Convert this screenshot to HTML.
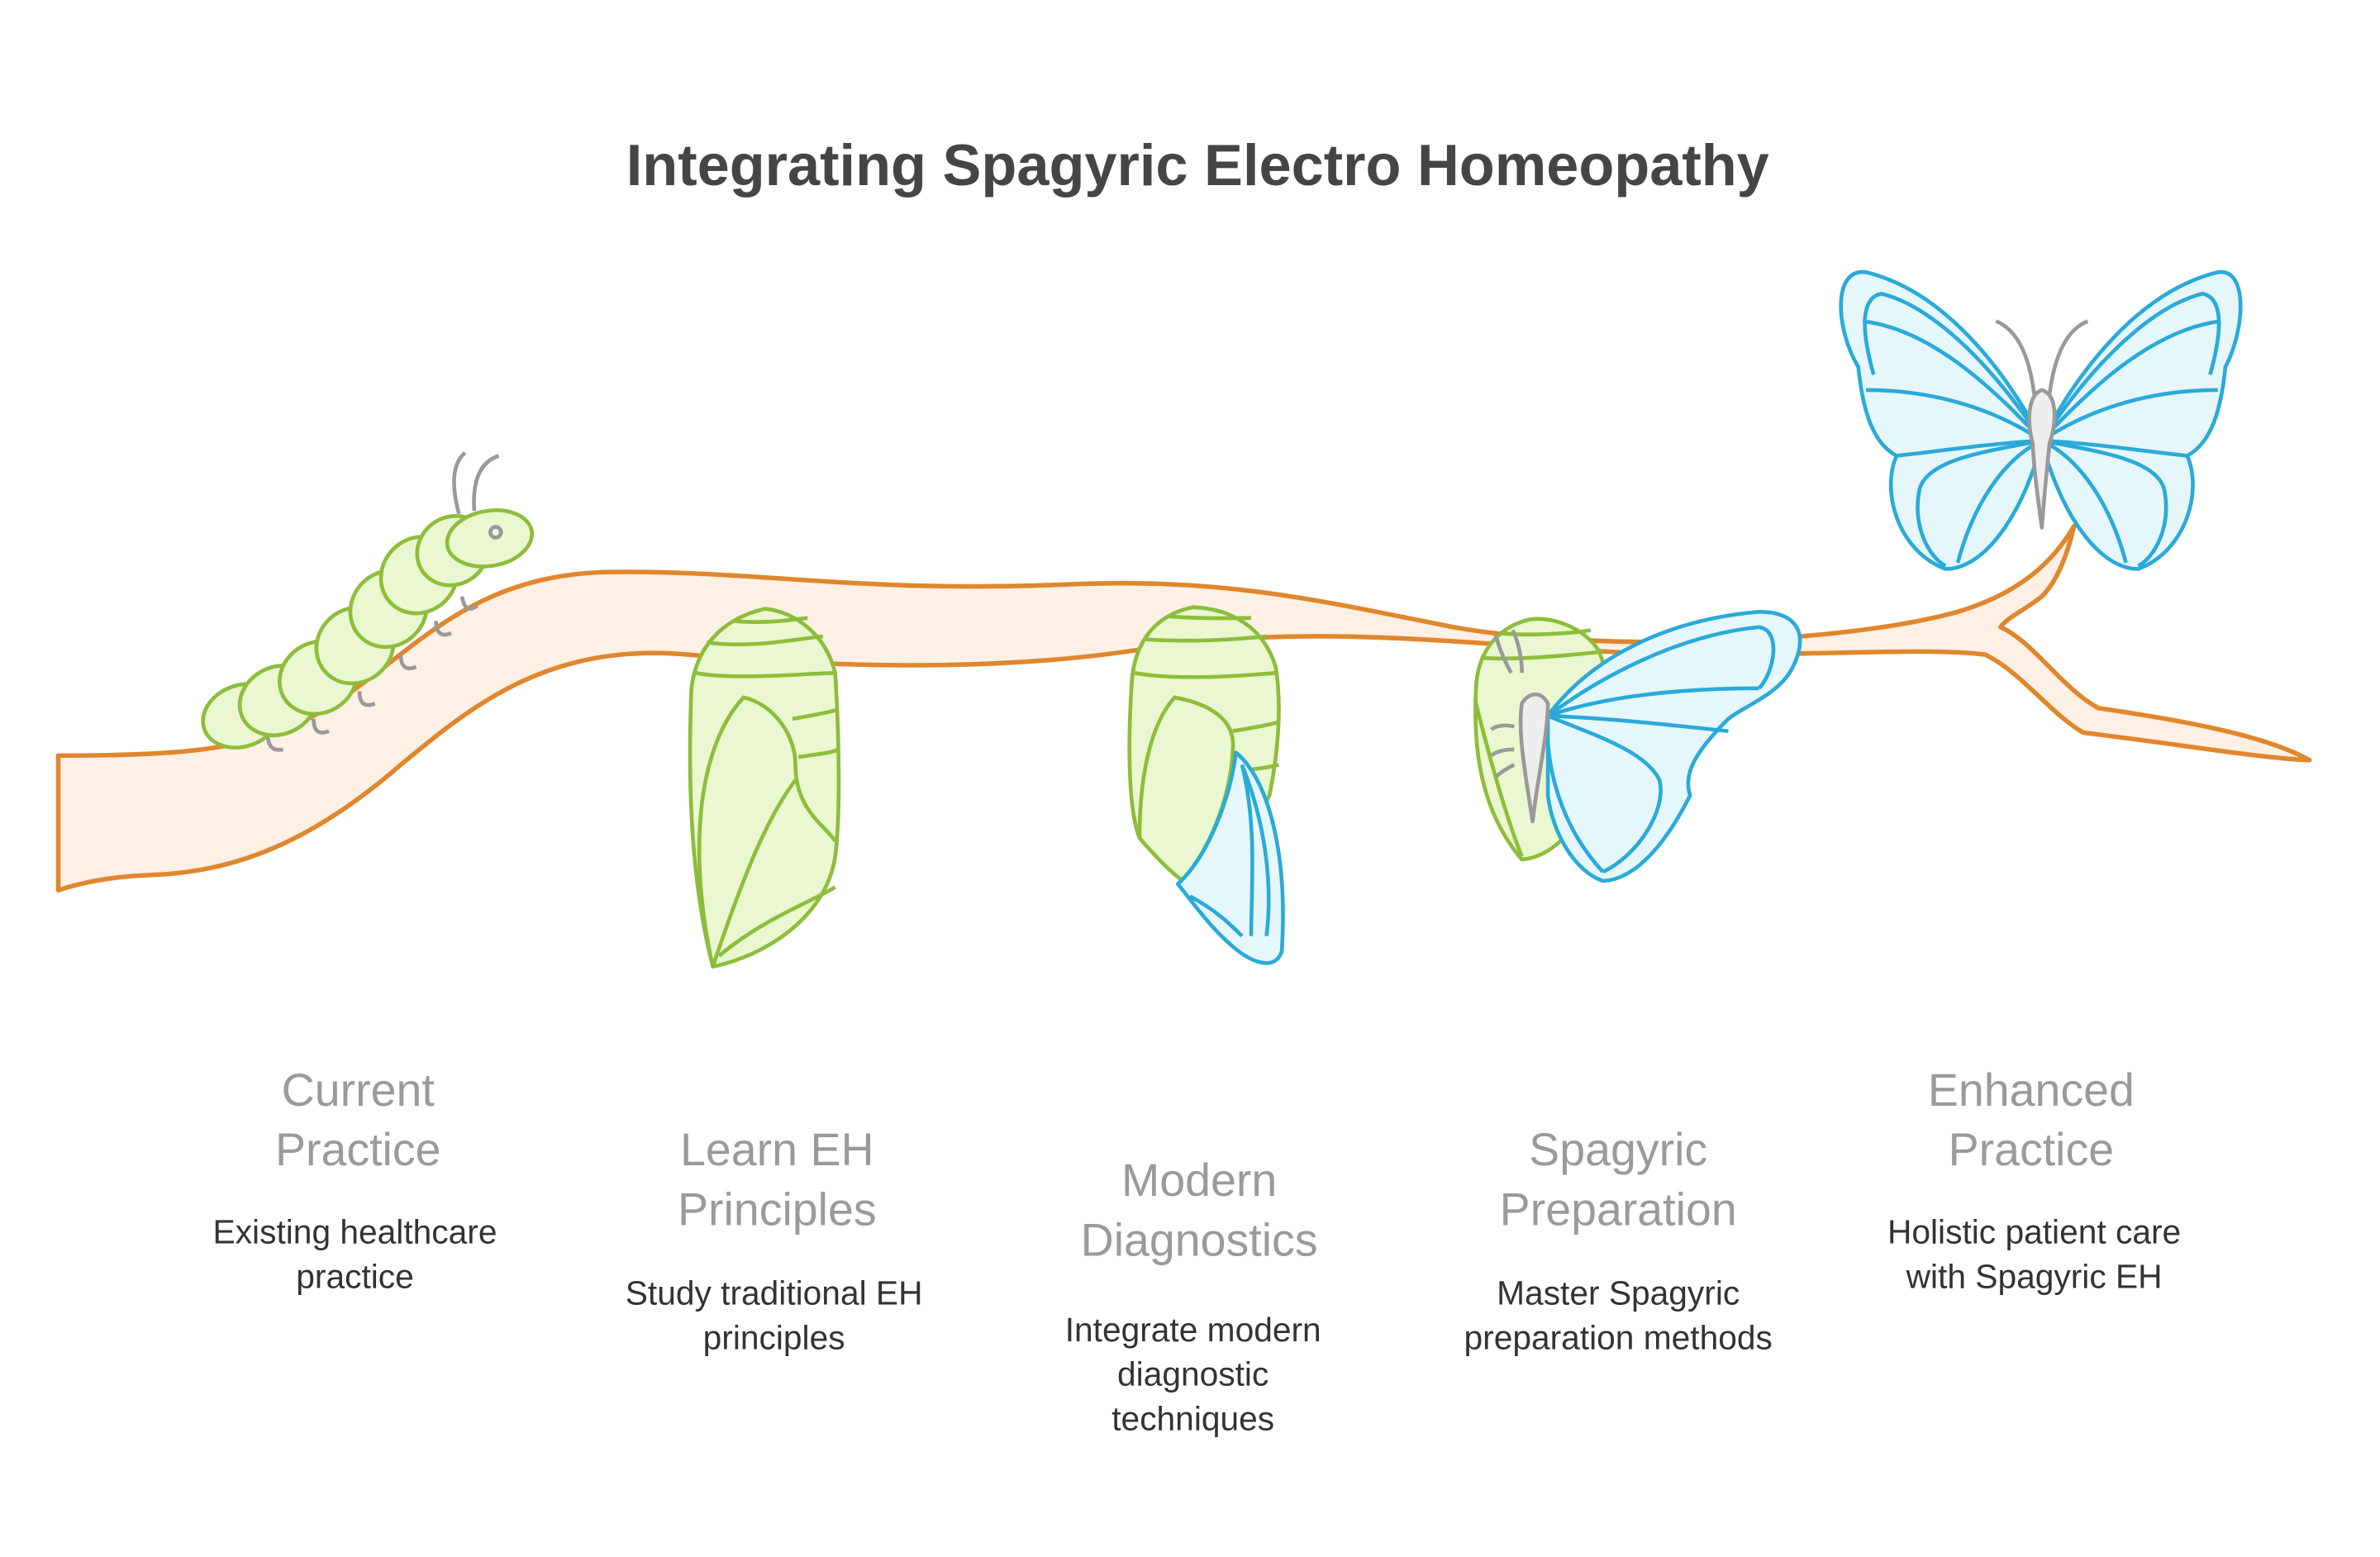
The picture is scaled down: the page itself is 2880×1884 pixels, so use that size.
<!DOCTYPE html>
<html><head><meta charset="utf-8"><style>
html,body{margin:0;padding:0;background:#fff;}
svg{display:block;}
text{font-family:"Liberation Sans",sans-serif;}
</style></head><body>
<svg width="2880" height="1884" viewBox="0 0 1556 1018" xmlns="http://www.w3.org/2000/svg">
<rect width="1556" height="1018" fill="#fff"/>
<text x="783" y="121" text-anchor="middle" font-size="38" font-weight="bold" fill="#454545">Integrating Spagyric Electro Homeopathy</text>

<!-- branch -->
<path d="M38,494 C120,494 165,490 205,468 C265,435 300,375 400,374 C500,373 560,388 700,382 C800,378 860,392 950,410 C1040,426 1200,422 1280,400 C1320,388 1342,368 1356,344 C1352,362 1345,380 1335,390 C1325,398 1312,404 1308,410 C1330,420 1348,450 1372,463 C1420,470 1480,480 1510,497 C1480,496 1420,486 1362,479 C1340,466 1322,440 1298,428 C1250,422 1150,432 1050,426 C950,420 850,408 750,424 C650,440 540,436 450,428 C360,420 310,460 262,500 C210,545 160,570 100,572 C70,573 50,578 38,582 Z" fill="#fdf0e5" stroke="#e0872e" stroke-width="3" stroke-linejoin="round"/>

<!-- caterpillar -->
<g stroke="#8dbd3a" stroke-width="2.5" fill="#eaf7d0">
<g fill="none" stroke="#999">
<path d="M175,480 q0,12 10,10"/><path d="M205,470 q0,12 10,8"/><path d="M235,452 q0,12 10,8"/><path d="M262,428 q0,12 10,8"/><path d="M285,406 q0,12 10,8"/><path d="M302,390 q2,12 10,6"/>
<path d="M300,336 q-8,-30 4,-40"/><path d="M310,334 q-2,-30 16,-36"/>
</g>
<ellipse cx="158" cy="468" rx="26" ry="20" transform="rotate(-20 158 468)"/>
<ellipse cx="182" cy="458" rx="26" ry="22" transform="rotate(-25 182 458)"/>
<ellipse cx="208" cy="443" rx="26" ry="23" transform="rotate(-30 208 443)"/>
<ellipse cx="232" cy="422" rx="26" ry="24" transform="rotate(-40 232 422)"/>
<ellipse cx="254" cy="398" rx="26" ry="24" transform="rotate(-45 254 398)"/>
<ellipse cx="274" cy="376" rx="26" ry="24" transform="rotate(-45 274 376)"/>
<ellipse cx="296" cy="360" rx="24" ry="22" transform="rotate(-35 296 360)"/>
<ellipse cx="320" cy="352" rx="28" ry="18" transform="rotate(-10 320 352)"/>
<circle cx="324" cy="348" r="3.5" fill="none" stroke="#999"/>
</g>

<!-- chrysalis 1 -->
<g stroke="#8dbd3a" stroke-width="2.5" fill="#eaf7d0" stroke-linejoin="round">
<path d="M500,398 C470,405 455,425 452,450 C450,500 450,570 466,632 C500,625 540,600 546,560 C550,530 548,470 546,440 C540,415 520,400 500,398 Z"/>
<path d="M466,632 C450,560 455,490 486,456 C505,460 520,480 520,500 C520,530 540,540 546,550" fill="none"/>
<path d="M466,632 C490,560 505,530 520,510" fill="none"/>
<path d="M470,625 C500,600 530,590 546,580" fill="none"/>
<path d="M455,440 C480,445 530,440 546,440 M462,420 C490,424 520,418 538,416 M480,406 C500,408 520,405 528,404 M518,470 C530,468 540,466 548,464 M522,495 C535,493 545,492 548,490" fill="none"/>
</g>

<!-- chrysalis 2 -->
<g stroke-width="2.5" stroke-linejoin="round">
<path d="M780,397 C755,402 742,420 740,445 C737,490 738,530 745,548 C760,565 770,575 780,580 C800,570 820,540 830,520 C836,490 838,460 834,436 C826,410 805,398 780,397 Z" fill="#eaf7d0" stroke="#8dbd3a"/>
<path d="M745,548 C745,500 755,470 768,456 C790,460 808,470 806,490 C805,520 790,560 770,578" fill="none" stroke="#8dbd3a"/>
<path d="M742,440 C770,445 810,442 834,440 M748,418 C780,420 810,418 828,416 M764,403 C790,405 810,404 818,404 M806,478 C818,476 830,474 836,472 M804,505 C818,503 830,502 836,500" fill="none" stroke="#8dbd3a"/>
<path d="M808,492 C830,510 842,560 838,622 C834,635 818,630 805,618 C790,605 780,590 770,578 C790,560 805,520 808,492 Z" fill="#e6f7fc" stroke="#2aaad9"/>
<path d="M812,500 C828,540 832,580 828,612 M812,500 C822,540 818,580 818,612 M778,586 C795,595 805,605 812,612" fill="none" stroke="#2aaad9"/>
</g>

<!-- chrysalis 3 + butterfly -->
<g stroke-width="2.5" stroke-linejoin="round">
<path d="M1000,405 C980,410 966,425 965,450 C963,490 968,530 995,562 C1020,560 1040,530 1050,500 C1055,470 1052,440 1045,425 C1035,410 1015,403 1000,405 Z" fill="#eaf7d0" stroke="#8dbd3a"/>
<path d="M968,430 C990,432 1030,428 1048,426 M980,414 C1000,416 1030,414 1040,412 M965,460 C975,500 985,535 995,560" fill="none" stroke="#8dbd3a"/>
<path d="M1012,468 C1040,430 1090,405 1150,400 C1180,400 1182,420 1170,440 C1160,455 1140,462 1130,470 C1110,490 1100,505 1105,520 C1090,550 1070,575 1048,576 C1030,570 1015,545 1012,520 Z" fill="#e6f7fc" stroke="#2aaad9"/>
<path d="M1012,468 C1050,440 1100,415 1150,410 C1165,412 1160,440 1150,450 M1012,468 C1050,455 1100,450 1150,450 M1012,468 C1060,470 1100,475 1130,478 M1012,468 C1010,500 1020,540 1048,570 M1012,468 C1040,480 1075,490 1085,510 C1090,530 1070,560 1048,570" fill="none" stroke="#2aaad9"/>
<g fill="none" stroke="#999"><path d="M988,440 q-8,-15 -10,-25"/><path d="M995,440 q0,-15 -6,-28"/><path d="M990,475 q-10,-2 -15,2 M990,490 q-10,0 -15,4 M990,500 q-8,4 -12,8"/></g>
<path d="M995,460 C1000,452 1008,452 1012,460 C1012,480 1005,510 1002,537 C998,510 992,480 995,460 Z" fill="#eee" stroke="#999"/>
</g>

<!-- big butterfly -->
<g stroke="#2aaad9" stroke-width="2.5" fill="#e6f7fc" stroke-linejoin="round">
<path d="M1335,288 C1310,240 1270,190 1220,178 C1198,175 1200,215 1215,240 C1218,270 1225,290 1240,298 C1230,320 1240,360 1272,372 C1300,372 1325,330 1335,288 Z"/>
<path d="M1335,288 C1360,240 1400,190 1450,178 C1470,175 1468,215 1455,240 C1452,270 1445,290 1430,298 C1440,320 1430,360 1398,372 C1370,372 1345,330 1335,288 Z"/>
<path d="M1335,288 C1300,250 1260,215 1218,210 M1335,288 C1300,265 1260,255 1220,255 M1335,288 C1300,290 1260,296 1240,298 M1335,288 C1300,295 1260,300 1255,320 C1250,345 1262,365 1272,370 M1335,288 C1310,300 1290,330 1280,368" fill="none"/>
<path d="M1335,288 C1370,250 1410,215 1452,210 M1335,288 C1370,265 1410,255 1450,255 M1335,288 C1370,290 1410,296 1430,298 M1335,288 C1370,295 1410,300 1415,320 C1420,345 1408,365 1398,370 M1335,288 C1360,300 1380,330 1390,368" fill="none"/>
<path d="M1335,288 C1300,235 1262,200 1230,192 C1215,195 1218,220 1225,245" fill="none"/>
<path d="M1335,288 C1370,235 1408,200 1440,192 C1455,195 1452,220 1445,245" fill="none"/>
<g fill="none" stroke="#999"><path d="M1330,258 q-5,-40 -25,-48"/><path d="M1340,258 q5,-40 25,-48"/></g>
<path d="M1335,255 C1345,258 1345,275 1340,290 C1338,310 1336,330 1335,345 C1333,330 1330,310 1329,290 C1325,275 1326,258 1335,255 Z" fill="#eee" stroke="#999"/>
</g>

<!-- labels -->
<g text-anchor="middle">
<g font-size="30" fill="#9a9a9a">
<text x="234" y="723">Current</text><text x="234" y="762">Practice</text>
<text x="508" y="762">Learn EH</text><text x="508" y="801">Principles</text>
<text x="784" y="782">Modern</text><text x="784" y="821">Diagnostics</text>
<text x="1058" y="762">Spagyric</text><text x="1058" y="801">Preparation</text>
<text x="1328" y="723">Enhanced</text><text x="1328" y="762">Practice</text>
</g>
<g font-size="22" fill="#333">
<text x="232" y="813">Existing healthcare</text><text x="232" y="842">practice</text>
<text x="506" y="853">Study traditional EH</text><text x="506" y="882">principles</text>
<text x="780" y="877">Integrate modern</text><text x="780" y="906">diagnostic</text><text x="780" y="935">techniques</text>
<text x="1058" y="853">Master Spagyric</text><text x="1058" y="882">preparation methods</text>
<text x="1330" y="813">Holistic patient care</text><text x="1330" y="842">with Spagyric EH</text>
</g>
</g>
</svg>
</body></html>
